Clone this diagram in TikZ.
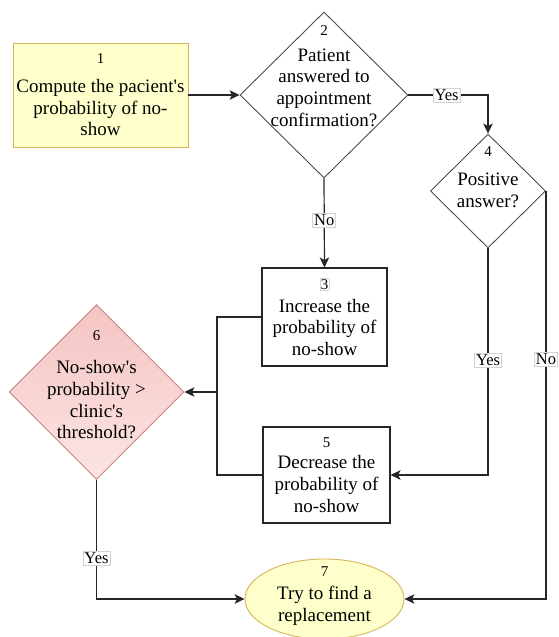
\documentclass[tikz,border=0pt]{standalone}
\usepackage{fontspec}
\setmainfont{Liberation Serif}
\usetikzlibrary{arrows.meta, shapes.geometric}

\definecolor{noteFill}{HTML}{FFFFCC}
\definecolor{noteLine}{HTML}{D6B656}
\definecolor{alertTop}{HTML}{F4C4C2}
\definecolor{alertBot}{HTML}{FBE5E4}
\definecolor{alertLine}{HTML}{C98482}

\newcommand{\stepno}[1]{{\fontsize{15}{18}\selectfont #1}}
\newcommand{\aps}{\textquotesingle}
\setlength{\fboxsep}{0.6pt}

\begin{document}
\begin{tikzpicture}[
        x=1pt, y=-1pt,
        font=\fontsize{19}{21.7}\selectfont,
        proc/.style={rectangle, draw=black!85, line width=1.1pt, inner sep=0pt, align=center},
        test/.style={diamond, aspect=1, draw=black!70, line width=0.9pt, inner sep=0pt},
        answer/.style={fill=white, draw=gray!35, line width=0.6pt, inner sep=1.4pt,
            font=\fontsize{16.5}{18}\selectfont},
        flow/.style={draw=black!85, line width=1.2pt},
        >={Stealth[length=10pt, width=9.5pt, inset=2.5pt]}
    ]
    \useasboundingbox (0,0) rectangle (558,637);
    
    \node[proc, fill=noteFill, draw=noteLine, line width=0.9pt,
        minimum width=175pt, minimum height=104pt] (b1) at (100.5,95)
        {\stepno{1}\\[7pt]Compute the pacient\aps s\\probability of no-\\show};
    \node[test, minimum width=168pt, minimum height=166pt,
        label={[align=center, yshift=19pt]center:{\stepno{2}\\[4pt]Patient\\answered to\\appointment\\confirmation?}}]
        (d2) at (324,95) {};
    \node[test, minimum width=115pt, minimum height=114pt,
        label={[align=center, yshift=14pt]center:{\stepno{4}\\[8pt]Positive\\answer?}}]
        (d4) at (488,191) {};
    \node[proc, minimum width=125pt, minimum height=98pt] (b3) at (324.5,317)
        {\fcolorbox{gray!35}{white}{\stepno{3}}\\[1pt]Increase the\\probability of\\no-show};
    \node[proc, minimum width=127pt, minimum height=96pt] (b5) at (326.5,475)
        {\stepno{5}\\Decrease the\\probability of\\no-show};
    \node[test, top color=alertTop, bottom color=alertBot, draw=alertLine,
        minimum width=175pt, minimum height=175pt,
        label={[align=center, yshift=7pt]center:{\stepno{6}\\[11pt]No-show\aps s\\probability >\\clinic\aps s\\threshold?}}]
        (d6) at (96.5,392) {};
    \node[ellipse, fill=noteFill, draw=noteLine, line width=0.9pt, inner sep=0pt,
        minimum width=159pt, minimum height=80pt,
        label={[align=center, yshift=3pt]center:{\stepno{7}\\[1pt]Try to find a\\replacement}}]
        (e7) at (324.5,599) {};
    \coordinate (jn) at (217,392);
    
    \draw[flow, ->] (b1.east) -- (d2.west);
    \draw[flow, ->] (d2.east) -| node[answer, pos=0.24] {Yes} (d4.north);
    \draw[flow, ->] (d2.south) -- node[answer, pos=0.47] {No} (b3.north);
    \draw[flow] (b3.west) -| (jn);
    \draw[flow] (b5.west) -| (jn);
    \draw[flow, ->] (jn) -- (d6.east);
    \draw[flow, ->] (d4.south) |- node[answer, pos=0.247] {Yes} (b5.east);
    \draw[flow, ->] (d4.east) |- node[answer, pos=0.206] {No} (e7.east);
    \draw[flow, ->] (d6.south) |- node[answer, pos=0.33] {Yes} (e7.west);
    
\end{tikzpicture}
\end{document}
